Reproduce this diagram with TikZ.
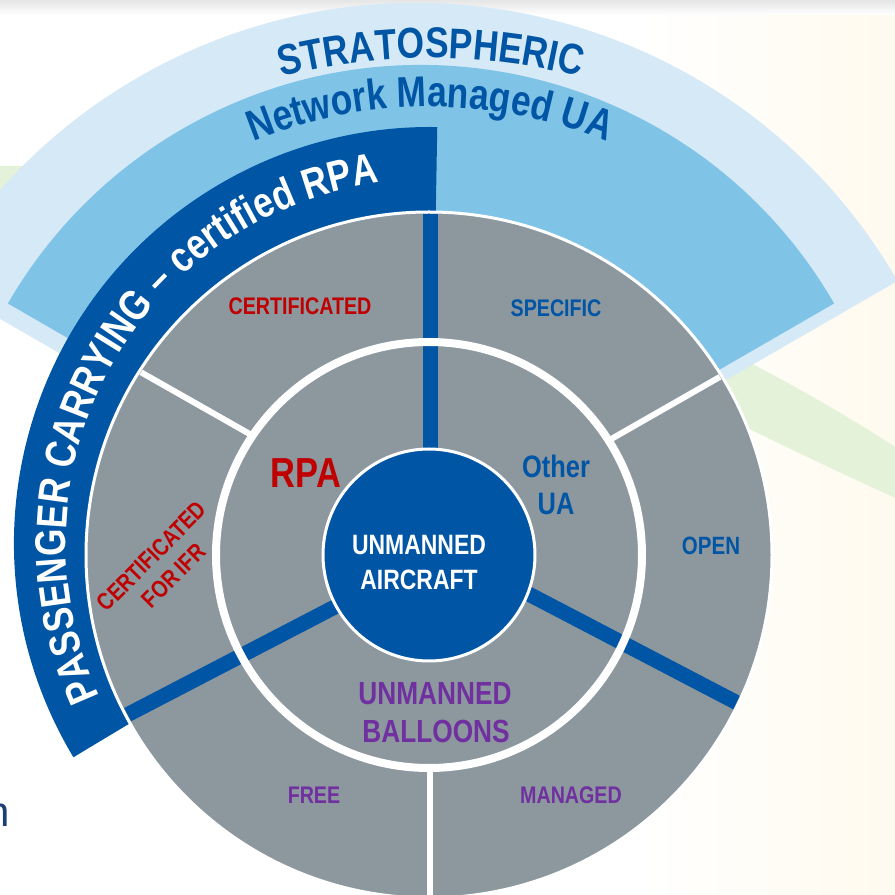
\documentclass[tikz,border=0pt]{standalone}
\usepackage{fontspec}
\usetikzlibrary{calc,decorations.text}
\newfontfamily\narrowfont[FakeStretch=0.82]{Liberation Sans}
\newfontfamily\plainsans{Liberation Sans}
\newcommand{\ufont}[1]{\narrowfont\bfseries\fontsize{#1}{#1}\selectfont}

\definecolor{ringgrey}{HTML}{8C979E}
\definecolor{uablue}{HTML}{0055A5}
\definecolor{netblue}{HTML}{7FC3E7}
\definecolor{stratblue}{HTML}{D5E9F6}
\definecolor{swoosh}{HTML}{E5F2DA}
\definecolor{rpared}{HTML}{C00000}
\definecolor{balloon}{HTML}{7030A0}
\definecolor{warm}{HTML}{FFFAEE}
\definecolor{navy}{HTML}{1C3F75}

\begin{document}
\begin{tikzpicture}[x=1pt, y=1pt,
    divider/.style={uablue, line width=15},
    split/.style={white, line width=6},
    lbl/.style={anchor=base, inner sep=0pt}]
    \useasboundingbox (0,0) rectangle (895,895);
    \fill[white] (0,0) rectangle (895,895);
    \shade[left color=white, right color=warm] (640,0) rectangle (895,880);
    \shade[top color=black!10, bottom color=white] (0,880) rectangle (895,895);

    \coordinate (G) at (429,340);
    \coordinate (D) at (430,352);
    \coordinate (M) at (421,353);
    \coordinate (Q) at (416,336);
    \coordinate (strat) at (431,237);
    \coordinate (net) at (430,318);

    \fill[swoosh] (-5,729) .. controls (250,732) and (600,640) .. (900,445)
        -- (900,395) .. controls (620,520) and (300,720) .. (-5,690) -- cycle;

    \fill[stratblue] (Q) -- ($(Q)+(30:556)$) arc[start angle=30, end angle=150, radius=556] -- cycle;
    \fill[netblue] (M) -- ($(M)+(30:477)$) arc[start angle=30, end angle=150, radius=477] -- cycle;
    \fill[uablue] (D) -- ($(D)+(211:416)$) arc[start angle=211, end angle=89, radius=416] -- cycle;

    \filldraw[fill=ringgrey, draw=white, line width=3] (G) circle[radius=343];
    \begin{scope}
        \clip (G) circle[radius=341];
        \draw[divider] (430,340) -- (430,700);
        \draw[divider] (429,337) -- (100,166);
        \draw[divider] (429,353) -- (768,176);
        \draw[split] (255,458) -- (100,546);
        \draw[split] (606,453) -- (760,541);
        \draw[split] (430,125) -- (430,-10);
    \end{scope}
    \draw[white, line width=8] (G) circle[radius=213];
    \filldraw[fill=uablue, draw=white, line width=3] (G) circle[radius=106];

    \path[decorate, decoration={text along path, text align=center, text color=uablue,
        text={|\ufont{43}|STRATOSPHERIC}}]
        ($(strat)+(120:600)$) arc[start angle=120, end angle=60, radius=600];
    \path[decorate, decoration={text along path, text align=center, text color=uablue,
        text={|\ufont{43}|Network Managed UA}}]
        ($(net)+(140:470)$) arc[start angle=140, end angle=40, radius=470];
    \path[decorate, decoration={text along path, text align=center, text color=white,
        text={|\ufont{43}|PASSENGER CARRYING – certified RPA}}]
        ($(D)+(211:364)$) arc[start angle=211, end angle=92, radius=364];

    \node[lbl, font=\ufont{28}, text=white] (ua1) at (419,340) {UNMANNED};
    \node[lbl, font=\ufont{28}, text=white] (ua2) at (419,305) {AIRCRAFT};
    \node[lbl, font=\ufont{42}, text=rpared] (rpa) at (306,407) {RPA};
    \node[lbl, font=\ufont{31}, text=uablue] (other1) at (556,417) {Other};
    \node[lbl, font=\ufont{31}, text=uablue] (other2) at (556,380) {UA};
    \node[lbl, font=\ufont{32}, text=balloon] (bal1) at (435,190) {UNMANNED};
    \node[lbl, font=\ufont{32}, text=balloon] (bal2) at (436,152) {BALLOONS};

    \node[lbl, font=\ufont{24}, text=rpared] (cert) at (300,580) {CERTIFICATED};
    \node[lbl, font=\ufont{24}, text=uablue] (specific) at (556,578) {SPECIFIC};
    \node[lbl, font=\ufont{25}, text=uablue] (open) at (711,340) {OPEN};
    \node[lbl, font=\ufont{24}, text=balloon] (managed) at (571,91) {MANAGED};
    \node[lbl, font=\ufont{24}, text=balloon] (free) at (314,91) {FREE};
    \node[lbl, font=\ufont{24}, text=rpared, rotate=45] (ifr1) at (157.5,333) {CERTIFICATED};
    \node[lbl, font=\ufont{24}, text=rpared, rotate=45] (ifr2) at (179.5,313.5) {FOR IFR};

    \node[anchor=base east, inner sep=0pt, font=\plainsans\fontsize{42}{42}\selectfont, text=navy] (cut) at (10,68) {n};
\end{tikzpicture}
\end{document}
